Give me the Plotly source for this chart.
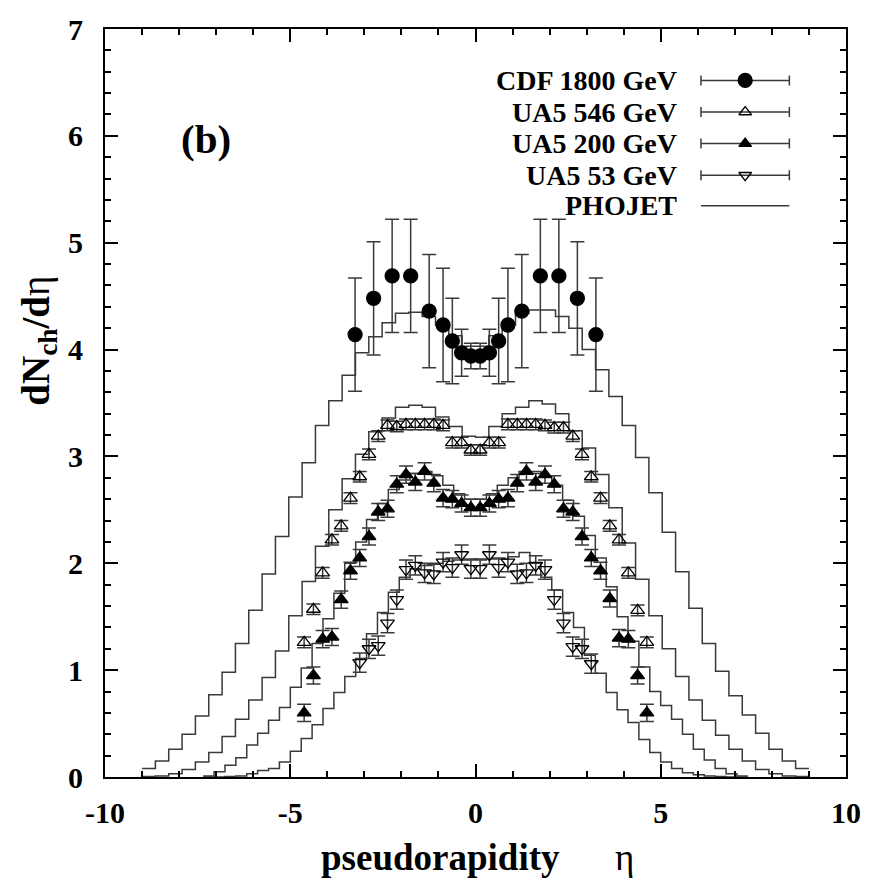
import numpy as np
import plotly.graph_objects as go

# ---------------- data ----------------
ETA_CDF = [-3.25, -2.75, -2.25, -1.75, -1.25, -0.875, -0.625, -0.375, -0.125,
           0.125, 0.375, 0.625, 0.875, 1.25, 1.75, 2.25, 2.75, 3.25]
DN_CDF = [4.14, 4.48, 4.69, 4.69, 4.36, 4.23, 4.08, 3.97, 3.94,
          3.94, 3.97, 4.08, 4.23, 4.36, 4.69, 4.69, 4.48, 4.14]
ERR_CDF = [0.53, 0.53, 0.53, 0.53, 0.53, 0.53, 0.40, 0.22, 0.12,
           0.12, 0.22, 0.40, 0.53, 0.53, 0.53, 0.53, 0.53, 0.53]

ETA_UA5 = [-4.625, -4.375, -4.125, -3.875, -3.625, -3.375, -3.125, -2.875, -2.625, -2.375,
           -2.125, -1.875, -1.625, -1.375, -1.125, -0.875, -0.625, -0.375, -0.125,
           0.125, 0.375, 0.625, 0.875, 1.125, 1.375, 1.625, 1.875, 2.125,
           2.375, 2.625, 2.875, 3.125, 3.375, 3.625, 3.875, 4.125, 4.375, 4.625]
DN_546 = [1.26, 1.57, 1.91, 2.22, 2.35, 2.61, 2.81, 3.02, 3.19, 3.29,
          3.28, 3.30, 3.30, 3.30, 3.30, 3.29, 3.13, 3.13, 3.06,
          3.06, 3.13, 3.13, 3.30, 3.30, 3.30, 3.30, 3.29, 3.27,
          3.27, 3.19, 3.02, 2.81, 2.61, 2.35, 2.22, 1.91, 1.56, 1.26]
ERR_546 = 0.05
DN_200 = [0.60, 0.95, 1.29, 1.31, 1.66, 1.93, 2.05, 2.25, 2.48, 2.51,
          2.74, 2.83, 2.76, 2.86, 2.75, 2.61, 2.60, 2.56, 2.52,
          2.52, 2.56, 2.60, 2.61, 2.75, 2.86, 2.76, 2.83, 2.74,
          2.51, 2.48, 2.25, 2.05, 1.93, 1.67, 1.30, 1.29, 0.95, 0.60]
ERR_200 = 0.08

ETA_53 = [-3.125, -2.875, -2.625, -2.375, -2.125, -1.875, -1.625, -1.375, -1.125,
          -0.875, -0.625, -0.375, -0.125, 0.125, 0.375, 0.625, 0.875, 1.125,
          1.375, 1.625, 1.875, 2.125, 2.375, 2.625, 2.875, 3.125]
DN_53 = [1.07, 1.20, 1.23, 1.44, 1.66, 1.94, 1.98, 1.91, 1.90,
         2.01, 1.96, 2.08, 1.95, 1.95, 2.08, 1.96, 2.01, 1.90,
         1.91, 1.98, 1.94, 1.66, 1.44, 1.22, 1.20, 1.06]
ERR_53 = 0.09

# PHOJET histograms (50 bins each)
PHO_RANGE_HI = 9.0    # 1800 and 546 GeV histograms span -9 .. 9
PHO_RANGE_LO = 7.35   # 200 and 53 GeV histograms span -7.35 .. 7.35
N_BINS = 50
PHO_1800 = [0.08, 0.15, 0.26, 0.40, 0.57, 0.77, 0.98, 1.25, 1.56, 1.90,
            2.25, 2.62, 2.94, 3.29, 3.52, 3.76, 3.97, 4.12, 4.25, 4.34,
            4.35, 4.31, 4.23, 4.13, 4.03, 4.03, 4.13, 4.23, 4.34, 4.37,
            4.37, 4.31, 4.20, 4.00, 3.81, 3.56, 3.29, 2.99, 2.66, 2.29,
            1.92, 1.58, 1.25, 0.99, 0.76, 0.58, 0.41, 0.26, 0.15, 0.08]
PHO_546 = [0.005, 0.01, 0.03, 0.07, 0.14, 0.23, 0.38, 0.54, 0.72, 0.93,
           1.18, 1.51, 1.83, 2.16, 2.50, 2.79, 3.02, 3.23, 3.36, 3.46,
           3.48, 3.46, 3.37, 3.28, 3.19, 3.18, 3.28, 3.40, 3.46, 3.52,
           3.49, 3.40, 3.24, 3.08, 2.83, 2.52, 2.19, 1.85, 1.51, 1.20,
           0.94, 0.72, 0.53, 0.39, 0.26, 0.15, 0.07, 0.03, 0.01, 0.005]
PHO_200 = [0.01, 0.05, 0.11, 0.18, 0.30, 0.41, 0.53, 0.65, 0.84, 1.02,
           1.25, 1.48, 1.72, 2.00, 2.20, 2.41, 2.56, 2.69, 2.78, 2.84,
           2.86, 2.82, 2.73, 2.65, 2.60, 2.60, 2.65, 2.73, 2.80, 2.86,
           2.86, 2.81, 2.73, 2.59, 2.44, 2.26, 2.05, 1.78, 1.50, 1.27,
           1.03, 0.80, 0.67, 0.54, 0.40, 0.26, 0.16, 0.08, 0.03, 0.01]
PHO_53 = [0.0, 0.0, 0.005, 0.01, 0.03, 0.06, 0.08, 0.14, 0.24, 0.36,
          0.49, 0.64, 0.79, 0.94, 1.11, 1.34, 1.54, 1.73, 1.87, 1.95,
          1.98, 2.00, 2.02, 2.03, 2.03, 2.03, 2.04, 2.04, 2.06, 2.10,
          2.00, 1.87, 1.75, 1.54, 1.40, 1.14, 0.97, 0.79, 0.63, 0.51,
          0.35, 0.23, 0.14, 0.08, 0.04, 0.02, 0.01, 0.005, 0.0, 0.0]

X_TICKS = [-10, -5, 0, 5, 10]
X_TICK_TEXT = ["-10", "-5", "0", "5", "10"]
Y_TICKS = [0, 1, 2, 3, 4, 5, 6, 7]
Y_TICK_TEXT = ["0", "1", "2", "3", "4", "5", "6", "7"]

LEGEND_LABELS = ["CDF 1800 GeV", "UA5 546 GeV", "UA5 200 GeV", "UA5 53 GeV", "PHOJET"]

# ---------------- layout geometry (pixels) ----------------
W, H = 873, 882
L, R, T, B = 105, 851, 20, 777
FONT = "Liberation Serif"
INK = "black"
LINE = "#3a3a3a"


def px(xp):
    return (xp - L) / (R - L)


def py(yp):
    return (B - yp) / (B - T)


fig = go.Figure()


def step_trace(values, half_range):
    edges = np.linspace(-half_range, half_range, N_BINS + 1)
    yv = list(values) + [values[-1]]
    return go.Scatter(x=edges, y=yv, mode="lines", line=dict(color=LINE, width=1.5, shape="hv"),
                      showlegend=False, hoverinfo="skip", cliponaxis=True)


fig.add_trace(step_trace(PHO_1800, PHO_RANGE_HI))
fig.add_trace(step_trace(PHO_546, PHO_RANGE_HI))
fig.add_trace(step_trace(PHO_200, PHO_RANGE_LO))
fig.add_trace(step_trace(PHO_53, PHO_RANGE_LO))


def pts(x, y, err, symbol, size):
    arr = err if isinstance(err, list) else [err] * len(x)
    return go.Scatter(
        x=x, y=y, mode="markers",
        marker=dict(symbol=symbol, size=size, color=INK,
                    line=dict(color=INK, width=1.3)),
        error_y=dict(type="data", array=arr, visible=True, color=LINE, thickness=1.5, width=7),
        showlegend=False, hoverinfo="skip", cliponaxis=False)


fig.add_trace(pts(ETA_CDF, DN_CDF, ERR_CDF, "circle", 14))
fig.add_trace(pts(ETA_UA5, DN_546, ERR_546, "triangle-up-open", 12))
fig.add_trace(pts(ETA_UA5, DN_200, ERR_200, "triangle-up", 12))
fig.add_trace(pts(ETA_53, DN_53, ERR_53, "triangle-down-open", 12))

# ---------------- hand-built legend on a pixel overlay ----------------
ROW_Y = [72, 104, 136, 168, 199]
SAMPLE_C, SAMPLE_HALF = 749.5, 44.5
TEXT_RIGHT = 683
SYMS = [("circle", 14), ("triangle-up-open", 11), ("triangle-up", 11), ("triangle-down-open", 11)]
for (sym, sz), yr in zip(SYMS, ROW_Y[:4]):
    fig.add_trace(go.Scatter(
        x=[SAMPLE_C], y=[yr], xaxis="x2", yaxis="y2", mode="markers",
        marker=dict(symbol=sym, size=sz, color=INK, line=dict(color=INK, width=1.3)),
        error_x=dict(type="data", array=[SAMPLE_HALF], visible=True, color=LINE, thickness=1.5, width=5),
        showlegend=False, hoverinfo="skip", cliponaxis=False))
fig.add_trace(go.Scatter(
    x=[SAMPLE_C - SAMPLE_HALF, SAMPLE_C + SAMPLE_HALF], y=[ROW_Y[4], ROW_Y[4]],
    xaxis="x2", yaxis="y2", mode="lines", line=dict(color=LINE, width=1.5),
    showlegend=False, hoverinfo="skip"))

annotations = []
for lab, yr in zip(LEGEND_LABELS, ROW_Y):
    annotations.append(dict(x=px(TEXT_RIGHT), y=py(yr), xref="paper", yref="paper",
                            text="<b>%s</b>" % lab, showarrow=False, xanchor="right",
                            yanchor="middle", font=dict(family=FONT, size=28, color=INK)))
annotations.append(dict(x=px(207), y=py(131), xref="paper", yref="paper", text="<b>(b)</b>",
                        showarrow=False, xanchor="center", yanchor="middle",
                        font=dict(family=FONT, size=41, color=INK)))
annotations.append(dict(x=px(480), y=py(858), xref="paper", yref="paper",
                        text="<b>pseudorapidity</b>\u00a0\u00a0\u00a0\u00a0\u00a0\u00a0η", showarrow=False,
                        xanchor="center", yanchor="middle",
                        font=dict(family=FONT, size=37, color=INK)))
annotations.append(dict(x=px(38), y=py(335), xref="paper", yref="paper",
                        text="<b>dN<sub>ch</sub>/d</b>η", showarrow=False, textangle=-90,
                        xanchor="center", yanchor="middle",
                        font=dict(family=FONT, size=39, color=INK)))

axis_common = dict(showgrid=False, zeroline=False, showline=True, linecolor=INK, linewidth=2,
                   mirror="ticks", ticks="inside", ticklen=13, tickwidth=2, tickcolor=INK,
                   tickfont=dict(family=FONT, size=30, color=INK, weight="bold"))

fig.update_layout(
    width=W, height=H,
    margin=dict(l=L, r=W - R, t=T, b=H - B, pad=0),
    paper_bgcolor="white", plot_bgcolor="white",
    xaxis=dict(range=[-10, 10], tickvals=X_TICKS, ticktext=X_TICK_TEXT,
               minor=dict(dtick=1, ticklen=6, tickwidth=2, tickcolor=INK, ticks="inside"),
               ticklabelstandoff=8, **axis_common),
    yaxis=dict(range=[0, 7], tickvals=Y_TICKS, ticktext=Y_TICK_TEXT,
               minor=dict(dtick=0.2, ticklen=6, tickwidth=2, tickcolor=INK, ticks="inside"),
               ticklabelstandoff=14, **axis_common),
    xaxis2=dict(range=[L, R], overlaying="x", visible=False, anchor="y2"),
    yaxis2=dict(range=[B, T], overlaying="y", visible=False, anchor="x2"),
    annotations=annotations,
    showlegend=False,
)

fig.write_html("out.html")
